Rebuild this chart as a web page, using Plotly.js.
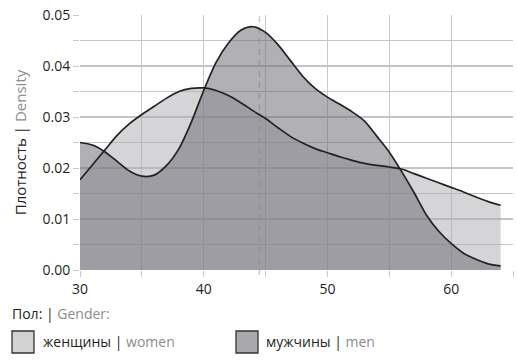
<!DOCTYPE html>
<html>
<head>
<meta charset="utf-8">
<script src="https://cdn.plot.ly/plotly-3.0.1.min.js"></script>
<style>html,body{margin:0;padding:0;background:#fff;}#chart{width:517px;height:364px;}</style>
</head>
<body>
<div id="chart"></div>
<script>
// ---- data ----
const age = [30,31,32,33,34,35,36,37,38,39,40,41,42,43,44,45,46,47,48,49,50,51,52,53,54,55,56,57,58,59,60,61,62,63,64];
const densityWomen = [0.0177,0.0206,0.0235,0.0264,0.0287,0.0305,0.0321,0.0337,0.0350,0.0356,0.0357,0.0352,0.0342,0.0328,0.0312,0.0297,0.0279,0.0262,0.0249,0.0238,0.0230,0.0222,0.0215,0.0209,0.0205,0.0202,0.0198,0.0189,0.0180,0.0171,0.0162,0.0153,0.0143,0.0134,0.0127];
const densityMen = [0.0250,0.0245,0.0232,0.0213,0.0194,0.0184,0.0186,0.0205,0.0238,0.0290,0.0352,0.0407,0.0445,0.0470,0.0477,0.0466,0.0442,0.0411,0.0380,0.0356,0.0339,0.0325,0.0310,0.0292,0.0262,0.0231,0.0193,0.0152,0.0108,0.0076,0.0052,0.0033,0.0021,0.0012,0.0008];
const seriesNames = ['женщины', 'мужчины'];
const seriesNamesEn = ['women', 'men'];
const legendTitle = ['Пол:', 'Gender:'];
const yTitle = ['Плотность', 'Density'];
const xTicks = [30, 40, 50, 60];
const meanLineX = [44.5];

// ---- style ----
const DARK = '#231f20', GREY = '#8c8c8c', FONT = 'Open Sans, Noto Sans, sans-serif';
const M = {l: 80, r: 4, t: 15, b: 94};
const W = 517, H = 364;
const pw = W - M.l - M.r, ph = H - M.t - M.b;
const px = x => (x - M.l) / pw;
const py = y => (H - M.b - y) / ph;

const lineStyle = {shape: 'spline', smoothing: 0.8, color: '#222', width: 1.7};
const traces = [
  {x: age, y: densityWomen, type: 'scatter', mode: 'none', fill: 'tozeroy',
   fillcolor: 'rgba(172,172,178,0.5)', hoverinfo: 'skip', line: {shape: 'spline', smoothing: 0.8}},
  {x: age, y: densityMen, type: 'scatter', mode: 'none', fill: 'tozeroy',
   fillcolor: 'rgba(108,108,116,0.53)', hoverinfo: 'skip', line: {shape: 'spline', smoothing: 0.8}},
  {x: age, y: densityWomen, type: 'scatter', mode: 'lines', line: lineStyle, name: seriesNames[0]},
  {x: age, y: densityMen, type: 'scatter', mode: 'lines', line: lineStyle, name: seriesNames[1]}
];

const legendBoxes = [
  {x0: 12, fill: '#d2d2d3'},
  {x0: 236, fill: '#a9a9ac'}
];
const shapes = legendBoxes.map(b => ({
  type: 'rect', xref: 'paper', yref: 'paper',
  x0: px(b.x0), x1: px(b.x0 + 22), y0: py(353), y1: py(331),
  fillcolor: b.fill, line: {color: '#333', width: 1.3}
}));
shapes.push({type: 'line', xref: 'x', yref: 'paper', x0: meanLineX[0], x1: meanLineX[0], y0: -0.02, y1: 1,
  line: {color: 'rgba(200,200,200,0.9)', width: 1.5, dash: '6px,5px'}, layer: 'below'});

const annotations = [
  {xref: 'paper', yref: 'paper', x: px(10), y: py(313), xanchor: 'left', yanchor: 'middle', showarrow: false,
   text: legendTitle[0] + ' | <span style="color:' + GREY + '">' + legendTitle[1] + '</span>'},
  {xref: 'paper', yref: 'paper', x: px(41), y: py(342), xanchor: 'left', yanchor: 'middle', showarrow: false,
   text: seriesNames[0] + ' | <span style="color:' + GREY + '">' + seriesNamesEn[0] + '</span>'},
  {xref: 'paper', yref: 'paper', x: px(264), y: py(342), xanchor: 'left', yanchor: 'middle', showarrow: false,
   text: seriesNames[1] + ' | <span style="color:' + GREY + '">' + seriesNamesEn[1] + '</span>'}
];

const layout = {
  width: W, height: H, margin: M,
  paper_bgcolor: '#fff', plot_bgcolor: '#fff',
  showlegend: false,
  font: {family: FONT, size: 14, color: DARK},
  xaxis: {
    range: [30, 65], tickvals: xTicks, ticks: 'outside', ticklen: 6, tickcolor: '#c8c8c8',
    showgrid: true, gridcolor: '#c8c8c8', gridwidth: 1, zeroline: false, showline: false,
    minor: {dtick: 5, tick0: 30, ticks: 'outside', ticklen: 6, tickcolor: '#c8c8c8', showgrid: true, gridcolor: '#c8c8c8', gridwidth: 1},
    tickfont: {size: 14, color: DARK}, fixedrange: true
  },
  yaxis: {
    range: [0, 0.05], dtick: 0.01, tickformat: '.2f', ticks: 'outside', ticklen: 6, tickcolor: '#c8c8c8',
    showgrid: true, gridcolor: '#c4c4c4', gridwidth: 1.5, zeroline: false, showline: false,
    minor: {dtick: 0.005, ticks: 'outside', ticklen: 6, tickcolor: '#c8c8c8', showgrid: true, gridcolor: '#c4c4c4', gridwidth: 1.5},
    tickfont: {size: 14, color: DARK},
    title: {text: yTitle[0] + ' | <span style="color:' + GREY + '">' + yTitle[1] + '</span>', font: {size: 15, color: DARK}, standoff: 12},
    fixedrange: true
  },
  shapes: shapes,
  annotations: annotations
};

Plotly.newPlot('chart', traces, layout, {staticPlot: true, displayModeBar: false});
</script>
</body>
</html>
